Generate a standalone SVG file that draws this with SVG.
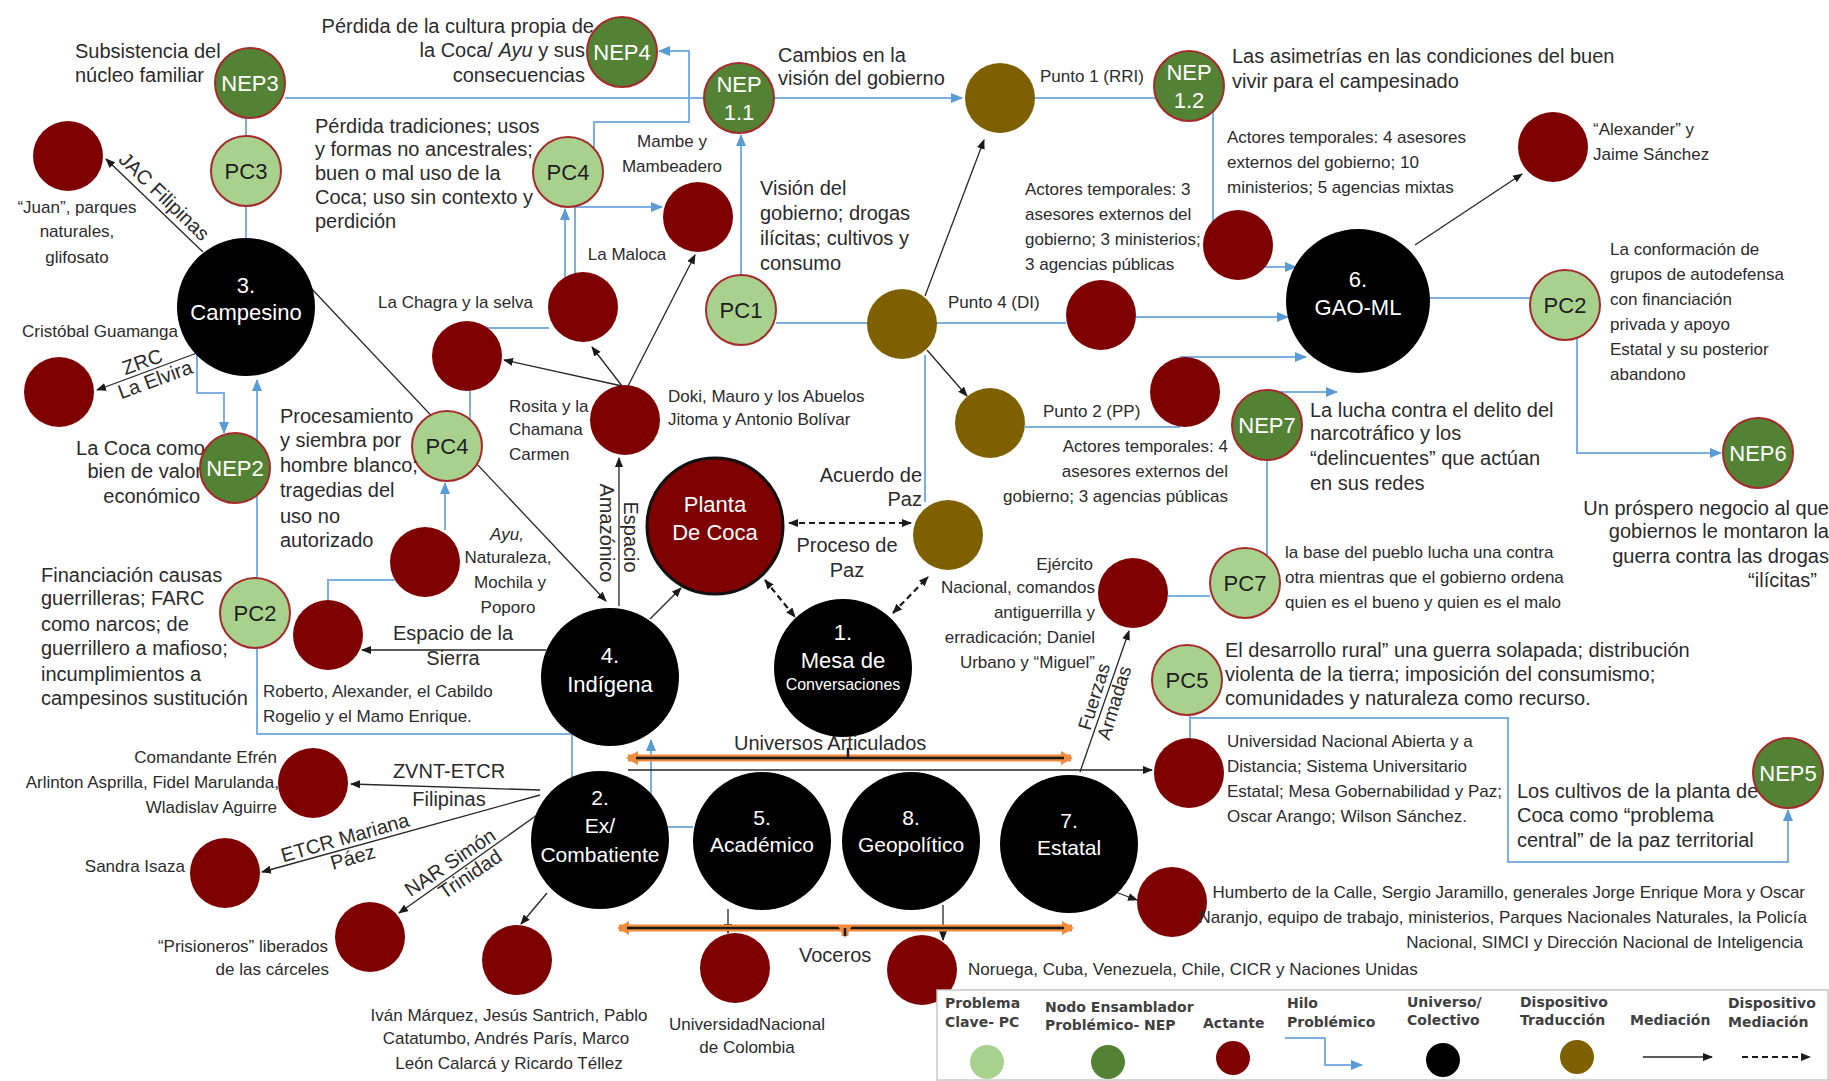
<svg xmlns="http://www.w3.org/2000/svg" width="1829" height="1081" viewBox="0 0 1829 1081">
<defs>
<style>
.t{font-family:"Liberation Sans",Arial,sans-serif;font-size:20px;fill:#2b2b2b}
.n{font-family:"Liberation Sans Narrow","Arial Narrow","Liberation Sans",sans-serif;font-size:17px;fill:#2b2b2b}
.w{font-family:"Liberation Sans",Arial,sans-serif;font-size:22px;fill:#fff;text-anchor:middle}
.k{font-family:"Liberation Sans",Arial,sans-serif;font-size:22px;fill:#1e1e1e;text-anchor:middle}
.m{text-anchor:middle}
.e{text-anchor:end}
.i{font-style:italic}
.pc{fill:#a9d18e;stroke:#a52a2a;stroke-width:2}
.nep{fill:#548235;stroke:#a52a2a;stroke-width:2}
.act{fill:#7f0000}
.dev{fill:#7f6000}
.uni{fill:#000}
.blue{fill:none;stroke:#7db0e2;stroke-width:2}
.blk{fill:none;stroke:#262626;stroke-width:1.3}
.dash{fill:none;stroke:#1a1a1a;stroke-width:2.2;stroke-dasharray:6 4}
.or{fill:none;stroke:#f08a3c;stroke-width:7}
.orc{fill:none;stroke:#1a1a1a;stroke-width:2.5}
.lg{font-family:"DejaVu Sans",Verdana,sans-serif;font-weight:bold;font-size:14px;fill:#404040}
</style>
<marker id="ab" viewBox="0 0 10 8" refX="9" refY="4" markerWidth="10" markerHeight="8" markerUnits="userSpaceOnUse" orient="auto-start-reverse"><path d="M0,0L10,4L0,8z" fill="#1a1a1a"/></marker>
<marker id="abl" viewBox="0 0 12 10" refX="11" refY="5" markerWidth="12" markerHeight="10" markerUnits="userSpaceOnUse" orient="auto"><path d="M0,0L12,5L0,10z" fill="#5b9bd5"/></marker>
<marker id="ao" viewBox="0 0 12 14" refX="10" refY="7" markerWidth="12" markerHeight="14" markerUnits="userSpaceOnUse" orient="auto-start-reverse"><path d="M0,0L12,7L0,14z" fill="#f08a3c"/></marker>
</defs>
<rect width="1829" height="1081" fill="#fff"/>

<!-- connectors -->
<g id="connectors">
  <!-- problem threads -->
  <path class="blue" d="M285,98H962" marker-end="url(#abl)"/>
  <path class="blue" d="M1035,98H1160"/>
  <path class="blue" d="M246,118V136M246,206V240"/>
  <path class="blue" d="M197,354V393H224V433" marker-end="url(#abl)"/>
  <path class="blue" d="M572,777V734H257V380" marker-end="url(#abl)"/>
  <path class="blue" d="M693,827H651V740" marker-end="url(#abl)"/>
  <path class="blue" d="M395,580H328V600"/>
  <path class="blue" d="M445,530V483" marker-end="url(#abl)"/>
  <path class="blue" d="M470,420V328H549"/>
  <path class="blue" d="M565,277V209" marker-end="url(#abl)"/>
  <path class="blue" d="M575,276V207H662" marker-end="url(#abl)"/>
  <path class="blue" d="M594,149V122H689V51H659" marker-end="url(#abl)"/>
  <path class="blue" d="M741,275V135" marker-end="url(#abl)"/>
  <path class="blue" d="M776,323H1066"/>
  <path class="blue" d="M1136,317H1288" marker-end="url(#abl)"/>
  <path class="blue" d="M1213,111V222"/>
  <path class="blue" d="M1265,267H1296" marker-end="url(#abl)"/>
  <path class="blue" d="M925,355V502"/>
  <path class="blue" d="M1180,357H1306" marker-end="url(#abl)"/>
  <path class="blue" d="M1025,427H1180"/>
  <path class="blue" d="M1277,392H1337" marker-end="url(#abl)"/>
  <path class="blue" d="M1267,556V460"/>
  <path class="blue" d="M1168,596H1210"/>
  <path class="blue" d="M1190,715V738"/>
  <path class="blue" d="M1190,718H1508V862H1788V810" marker-end="url(#abl)"/>
  <path class="blue" d="M1420,298H1530"/>
  <path class="blue" d="M1577,338V453H1721" marker-end="url(#abl)"/>
  <!-- mediations -->
  <path class="blk" d="M203,252L106,159" marker-end="url(#ab)"/>
  <path class="blk" d="M197,353L97,390" marker-end="url(#ab)"/>
  <path class="blk" d="M310,287L606,601" marker-end="url(#ab)"/>
  <path class="blk" d="M619,606V458" marker-end="url(#ab)"/>
  <path class="blk" d="M622,386L504,360" marker-end="url(#ab)"/>
  <path class="blk" d="M622,386L592,347" marker-end="url(#ab)"/>
  <path class="blk" d="M628,386L695,255" marker-end="url(#ab)"/>
  <path class="blk" d="M650,619L681,588" marker-end="url(#ab)"/>
  <path class="blk" d="M546,650H362" marker-end="url(#ab)"/>
  <path class="blk" d="M925,296L984,140" marker-end="url(#ab)"/>
  <path class="blk" d="M927,350L967,396" marker-end="url(#ab)"/>
  <path class="blk" d="M1415,245L1522,174" marker-end="url(#ab)"/>
  <path class="blk" d="M540,790L351,784" marker-end="url(#ab)"/>
  <path class="blk" d="M540,795L262,872" marker-end="url(#ab)"/>
  <path class="blk" d="M537,815L399,913" marker-end="url(#ab)"/>
  <path class="blk" d="M547,893L521,924" marker-end="url(#ab)"/>
  <path class="blk" d="M728,909V933" marker-end="url(#ab)"/>
  <path class="blk" d="M943,905V940" marker-end="url(#ab)"/>
  <path class="blk" d="M1118,893L1137,900" marker-end="url(#ab)"/>
  <path class="blk" d="M1080,772L1129,631" marker-end="url(#ab)"/>
  <path class="blk" d="M628,770H1152" marker-end="url(#ab)"/>
  <!-- mediation devices -->
  <path class="dash" d="M789,523H911" marker-start="url(#ab)" marker-end="url(#ab)"/>
  <path class="dash" d="M765,580L795,617" marker-start="url(#ab)" marker-end="url(#ab)"/>
  <path class="dash" d="M893,613L928,577" marker-start="url(#ab)" marker-end="url(#ab)"/>
  <!-- articulated universes / spokespersons -->
  <path class="or" d="M628,758H1071" marker-start="url(#ao)" marker-end="url(#ao)"/>
  <path class="orc" d="M636,758H1064M848,758V748"/>
  <path class="or" d="M619,928H1072" marker-start="url(#ao)" marker-end="url(#ao)"/>
  <path class="orc" d="M627,928H1064"/>
  <path class="or" d="M845,928V936" stroke-width="4" marker-end="url(#ao)"/>
  <path class="orc" d="M845,928V936"/>
</g>

<!-- universes / collectives -->
<g id="campesino"><circle class="uni" cx="246" cy="307" r="69"/><text class="w" x="246" y="293">3.</text><text class="w" x="246" y="320">Campesino</text></g>
<g id="indigena"><circle class="uni" cx="610" cy="677" r="69"/><text class="w" x="610" y="663">4.</text><text class="w" x="610" y="692">Indígena</text></g>
<g id="mesa"><circle class="uni" cx="843" cy="668" r="69"/><text class="w" x="843" y="640">1.</text><text class="w" x="843" y="668">Mesa de</text><text class="w" x="843" y="690" style="font-size:16px">Conversaciones</text></g>
<g id="excombatiente"><circle class="uni" cx="600" cy="840" r="69"/><text class="w" x="600" y="805" style="font-size:21px">2.</text><text class="w" x="600" y="833" style="font-size:21px">Ex/</text><text class="w" x="600" y="862" style="font-size:21px">Combatiente</text></g>
<g id="academico"><circle class="uni" cx="762" cy="841" r="69"/><text class="w" x="762" y="825" style="font-size:21px">5.</text><text class="w" x="762" y="852" style="font-size:21px">Académico</text></g>
<g id="geopolitico"><circle class="uni" cx="911" cy="841" r="69"/><text class="w" x="911" y="825" style="font-size:21px">8.</text><text class="w" x="911" y="852" style="font-size:21px">Geopolítico</text></g>
<g id="estatal"><circle class="uni" cx="1069" cy="844" r="69"/><text class="w" x="1069" y="828" style="font-size:21px">7.</text><text class="w" x="1069" y="855" style="font-size:21px">Estatal</text></g>
<g id="gaoml"><circle class="uni" cx="1358" cy="301" r="72"/><text class="w" x="1358" y="287">6.</text><text class="w" x="1358" y="315">GAO-ML</text></g>

<!-- coca plant -->
<g id="planta"><circle cx="715" cy="526" r="68" fill="#7f0000" stroke="#111" stroke-width="3"/><text class="w" x="715" y="512">Planta</text><text class="w" x="715" y="540">De Coca</text></g>

<!-- translation devices -->
<g id="punto1"><circle class="dev" cx="1000" cy="98" r="35"/><text class="n" x="1040" y="82">Punto 1 (RRI)</text></g>
<g id="punto4"><circle class="dev" cx="902" cy="324" r="35"/><text class="n" x="948" y="308">Punto 4 (DI)</text></g>
<g id="punto2"><circle class="dev" cx="990" cy="423" r="35"/><text class="n" x="1043" y="417">Punto 2 (PP)</text></g>
<g id="acuerdo"><circle class="dev" cx="948" cy="535" r="35"/>
  <text class="t e" x="922" y="482">Acuerdo de</text><text class="t e" x="922" y="506">Paz</text>
  <text class="t m" x="847" y="552">Proceso de</text><text class="t m" x="847" y="577">Paz</text></g>

<!-- key problems -->
<g id="pc3"><circle class="pc" cx="246" cy="171" r="35"/><text class="k" x="246" y="179">PC3</text>
  <text class="t" x="315" y="133">Pérdida tradiciones; usos</text><text class="t" x="315" y="156">y formas no ancestrales;</text><text class="t" x="315" y="180">buen o mal uso de la</text><text class="t" x="315" y="204">Coca; uso sin contexto y</text><text class="t" x="315" y="228">perdición</text></g>
<g id="pc4-upper"><circle class="pc" cx="568" cy="172" r="35"/><text class="k" x="568" y="180">PC4</text></g>
<g id="pc1"><circle class="pc" cx="741" cy="310" r="35"/><text class="k" x="741" y="318">PC1</text>
  <text class="t" x="760" y="195">Visión del</text><text class="t" x="760" y="220">gobierno; drogas</text><text class="t" x="760" y="245">ilícitas; cultivos y</text><text class="t" x="760" y="270">consumo</text></g>
<g id="pc4-lower"><circle class="pc" cx="447" cy="446" r="35"/><text class="k" x="447" y="454">PC4</text>
  <text class="t" x="280" y="423">Procesamiento</text><text class="t" x="280" y="447">y siembra por</text><text class="t" x="280" y="472">hombre blanco;</text><text class="t" x="280" y="497">tragedias del</text><text class="t" x="280" y="523">uso no</text><text class="t" x="280" y="547">autorizado</text></g>
<g id="pc2-left"><circle class="pc" cx="255" cy="613" r="35"/><text class="k" x="255" y="621">PC2</text>
  <text class="t" x="41" y="582">Financiación causas</text><text class="t" x="41" y="605">guerrilleras; FARC</text><text class="t" x="41" y="631">como narcos; de</text><text class="t" x="41" y="655">guerrillero a mafioso;</text><text class="t" x="41" y="681">incumplimientos a</text><text class="t" x="41" y="705">campesinos sustitución</text></g>
<g id="pc2-right"><circle class="pc" cx="1565" cy="305" r="35"/><text class="k" x="1565" y="313">PC2</text>
  <text class="n" x="1610" y="255">La conformación de</text><text class="n" x="1610" y="280">grupos de autodefensa</text><text class="n" x="1610" y="305">con financiación</text><text class="n" x="1610" y="330">privada y apoyo</text><text class="n" x="1610" y="355">Estatal y su posterior</text><text class="n" x="1610" y="380">abandono</text></g>
<g id="pc7"><circle class="pc" cx="1245" cy="583" r="35"/><text class="k" x="1245" y="591">PC7</text>
  <text class="n" x="1285" y="558">la base del pueblo lucha una contra</text><text class="n" x="1285" y="583">otra mientras que el gobierno ordena</text><text class="n" x="1285" y="608">quien es el bueno y quien es el malo</text></g>
<g id="pc5"><circle class="pc" cx="1187" cy="680" r="35"/><text class="k" x="1187" y="688">PC5</text>
  <text class="t" x="1225" y="657">El desarrollo rural” una guerra solapada; distribución</text><text class="t" x="1225" y="681">violenta de la tierra; imposición del consumismo;</text><text class="t" x="1225" y="705">comunidades y naturaleza como recurso.</text></g>

<!-- problem assembler nodes -->
<g id="nep3"><circle class="nep" cx="250" cy="83" r="35"/><text class="w" x="250" y="91">NEP3</text>
  <text class="t" x="75" y="58">Subsistencia del</text><text class="t" x="75" y="82">núcleo familiar</text></g>
<g id="nep4"><text class="t e" x="594" y="33">Pérdida de la cultura propia de</text><text class="t e" x="585" y="57">la Coca/ <tspan class="i">Ayu</tspan> y sus</text><text class="t e" x="585" y="82">consecuencias</text>
  <circle class="nep" cx="622" cy="52" r="35"/><text class="w" x="622" y="60">NEP4</text></g>
<g id="nep11"><circle class="nep" cx="739" cy="98" r="35"/><text class="w" x="739" y="92">NEP</text><text class="w" x="739" y="120">1.1</text>
  <text class="t" x="778" y="62">Cambios en la</text><text class="t" x="778" y="85">visión del gobierno</text></g>
<g id="nep12"><circle class="nep" cx="1189" cy="86" r="35"/><text class="w" x="1189" y="80">NEP</text><text class="w" x="1189" y="108">1.2</text>
  <text class="t" x="1232" y="63">Las asimetrías en las condiciones del buen</text><text class="t" x="1232" y="88">vivir para el campesinado</text></g>
<g id="nep2"><text class="t e" x="205" y="455">La Coca como</text><text class="t e" x="202" y="478">bien de valor</text><text class="t e" x="200" y="503">económico</text>
  <circle class="nep" cx="235" cy="468" r="35"/><text class="w" x="235" y="476">NEP2</text></g>
<g id="nep7"><circle class="nep" cx="1267" cy="425" r="35"/><text class="w" x="1267" y="433">NEP7</text>
  <text class="t" x="1310" y="417">La lucha contra el delito del</text><text class="t" x="1310" y="440">narcotráfico y los</text><text class="t" x="1310" y="465">“delincuentes” que actúan</text><text class="t" x="1310" y="490">en sus redes</text></g>
<g id="nep6"><circle class="nep" cx="1758" cy="453" r="35"/><text class="w" x="1758" y="461">NEP6</text>
  <text class="t e" x="1829" y="515">Un próspero negocio al que</text><text class="t e" x="1829" y="538">gobiernos le montaron la</text><text class="t e" x="1829" y="563">guerra contra las drogas</text><text class="t e" x="1817" y="587">“ilícitas”</text></g>
<g id="nep5"><text class="t" x="1517" y="798">Los cultivos de la planta de</text><text class="t" x="1517" y="822">Coca como “problema</text><text class="t" x="1517" y="847">central” de la paz territorial</text>
  <circle class="nep" cx="1788" cy="773" r="35"/><text class="w" x="1788" y="781">NEP5</text></g>

<!-- actants -->
<g id="juan"><circle class="act" cx="68" cy="156" r="35"/><text class="n m" x="77" y="213">“Juan”, parques</text><text class="n m" x="77" y="237">naturales,</text><text class="n m" x="77" y="263">glifosato</text>
  <text class="t m" transform="translate(156,205) rotate(44)" y="-5">JAC Filipinas</text></g>
<g id="guamanga"><circle class="act" cx="59" cy="392" r="35"/><text class="n" x="22" y="337">Cristóbal Guamanga</text>
  <g transform="translate(146,372) rotate(-20)"><text class="t m" y="-4">ZRC</text><text class="t m" x="6" y="17">La Elvira</text></g></g>
<g id="chagra"><circle class="act" cx="467" cy="356" r="35"/><text class="n" x="378" y="308">La Chagra y la selva</text></g>
<g id="maloca"><circle class="act" cx="583" cy="307" r="35"/><text class="n m" x="627" y="260">La Maloca</text></g>
<g id="mambe"><circle class="act" cx="698" cy="217" r="35"/><text class="n m" x="672" y="147">Mambe y</text><text class="n m" x="672" y="172">Mambeadero</text></g>
<g id="doki"><circle class="act" cx="625" cy="420" r="35"/>
  <text class="n" x="509" y="412">Rosita y la</text><text class="n" x="509" y="435">Chamana</text><text class="n" x="509" y="460">Carmen</text>
  <text class="n" x="668" y="402">Doki, Mauro y los Abuelos</text><text class="n" x="668" y="425">Jitoma y Antonio Bolívar</text>
  <text class="t m" transform="translate(624,537) rotate(90)">Espacio</text><text class="t m" transform="translate(600,533) rotate(90)">Amazónico</text></g>
<g id="ayu"><circle class="act" cx="425" cy="562" r="35"/><text class="n m i" x="507" y="540">Ayu,</text><text class="n m" x="508" y="563">Naturaleza,</text><text class="n m" x="510" y="588">Mochila y</text><text class="n m" x="508" y="613">Poporo</text></g>
<g id="roberto"><circle class="act" cx="328" cy="635" r="35"/>
  <text class="t m" x="453" y="640">Espacio de la</text><text class="t m" x="453" y="665">Sierra</text>
  <text class="n" x="263" y="697">Roberto, Alexander, el Cabildo</text><text class="n" x="263" y="722">Rogelio y el Mamo Enrique.</text></g>
<g id="actores-di"><circle class="act" cx="1101" cy="315" r="35"/>
  <text class="n" x="1025" y="195">Actores temporales: 3</text><text class="n" x="1025" y="220">asesores externos del</text><text class="n" x="1025" y="245">gobierno; 3 ministerios;</text><text class="n" x="1025" y="270">3 agencias públicas</text></g>
<g id="actores-rri"><circle class="act" cx="1238" cy="245" r="35"/>
  <text class="n" x="1227" y="143">Actores temporales: 4 asesores</text><text class="n" x="1227" y="168">externos del gobierno; 10</text><text class="n" x="1227" y="193">ministerios; 5 agencias mixtas</text></g>
<g id="alexander"><circle class="act" cx="1553" cy="147" r="35"/><text class="n" x="1593" y="135">“Alexander” y</text><text class="n" x="1593" y="160">Jaime Sánchez</text></g>
<g id="actores-pp"><circle class="act" cx="1185" cy="392" r="35"/>
  <text class="n e" x="1228" y="452">Actores temporales: 4</text><text class="n e" x="1228" y="477">asesores externos del</text><text class="n e" x="1228" y="502">gobierno; 3 agencias públicas</text></g>
<g id="ejercito"><circle class="act" cx="1133" cy="593" r="35"/>
  <text class="n e" x="1093" y="570">Ejército</text><text class="n e" x="1095" y="593">Nacional, comandos</text><text class="n e" x="1095" y="618">antiguerrilla y</text><text class="n e" x="1095" y="643">erradicación; Daniel</text><text class="n e" x="1095" y="668">Urbano y “Miguel”</text>
  <g transform="translate(1105,700) rotate(-73)"><text class="t m" y="-5" style="font-size:19px">Fuerzas</text><text class="t m" y="16" style="font-size:19px">Armadas</text></g></g>
<g id="universidad"><circle class="act" cx="1189" cy="773" r="35"/>
  <text class="n" x="1227" y="747">Universidad Nacional Abierta y a</text><text class="n" x="1227" y="772">Distancia; Sistema Universitario</text><text class="n" x="1227" y="797">Estatal; Mesa Gobernabilidad y Paz;</text><text class="n" x="1227" y="822">Oscar Arango; Wilson Sánchez.</text></g>
<g id="humberto"><circle class="act" cx="1172" cy="902" r="35"/>
  <text class="n e" x="1805" y="898">Humberto de la Calle, Sergio Jaramillo, generales Jorge Enrique Mora y Oscar</text><text class="n e" x="1807" y="923">Naranjo, equipo de trabajo, ministerios, Parques Nacionales Naturales, la Policía</text><text class="n e" x="1803" y="948">Nacional, SIMCI y Dirección Nacional de Inteligencia</text></g>
<g id="noruega"><circle class="act" cx="922" cy="970" r="35"/><text class="n" x="968" y="975">Noruega, Cuba, Venezuela, Chile, CICR y Naciones Unidas</text></g>
<g id="unal"><circle class="act" cx="735" cy="968" r="35"/><text class="n m" x="747" y="1030">UniversidadNacional</text><text class="n m" x="747" y="1053">de Colombia</text></g>
<g id="ivan"><circle class="act" cx="517" cy="960" r="35"/><text class="n m" x="509" y="1021">Iván Márquez, Jesús Santrich, Pablo</text><text class="n m" x="506" y="1044">Catatumbo, Andrés París, Marco</text><text class="n m" x="509" y="1069">León Calarcá y Ricardo Téllez</text></g>
<g id="prisioneros"><circle class="act" cx="370" cy="937" r="35"/><text class="n e" x="328" y="952">“Prisioneros” liberados</text><text class="n e" x="329" y="975">de las cárceles</text>
  <g transform="translate(461,868) rotate(-34)"><text class="t m" x="-6" y="-4">NAR Simón</text><text class="t m" x="4" y="17">Trinidad</text></g></g>
<g id="sandra"><circle class="act" cx="225" cy="873" r="35"/><text class="n e" x="185" y="872">Sandra Isaza</text>
  <g transform="translate(348,848) rotate(-16)"><text class="t m" y="-4">ETCR Mariana</text><text class="t m" x="2" y="17">Páez</text></g></g>
<g id="efren"><circle class="act" cx="313" cy="783" r="35"/>
  <text class="n e" x="277" y="763">Comandante Efrén</text><text class="n e" x="279" y="788">Arlinton Asprilla, Fidel Marulanda,</text><text class="n e" x="277" y="813">Wladislav Aguirre</text>
  <text class="t m" x="449" y="778">ZVNT-ETCR</text><text class="t m" x="449" y="806">Filipinas</text></g>

<!-- connector captions -->
<g id="captions"><text class="t" x="734" y="750">Universos Articulados</text><text class="t" x="799" y="962">Voceros</text></g>

<!-- legend -->
<g id="legend">
  <rect x="937" y="990" width="891" height="90" fill="#fff" stroke="#c8c8c8" stroke-width="1.5"/>
  <text class="lg" x="945" y="1008">Problema</text><text class="lg" x="945" y="1027">Clave- PC</text>
  <circle cx="987" cy="1062" r="17" fill="#a9d18e"/>
  <text class="lg" x="1045" y="1012">Nodo Ensamblador</text><text class="lg" x="1045" y="1030">Problémico- NEP</text>
  <circle cx="1108" cy="1062" r="17" fill="#548235"/>
  <text class="lg" x="1203" y="1028">Actante</text>
  <circle cx="1233" cy="1058" r="17" fill="#7f0000"/>
  <text class="lg" x="1287" y="1008">Hilo</text><text class="lg" x="1287" y="1027">Problémico</text>
  <path class="blue" d="M1285,1038H1325V1065H1362" marker-end="url(#abl)"/>
  <text class="lg" x="1407" y="1007">Universo/</text><text class="lg" x="1407" y="1025">Colectivo</text>
  <circle cx="1443" cy="1060" r="17" fill="#000"/>
  <text class="lg" x="1520" y="1007">Dispositivo</text><text class="lg" x="1520" y="1025">Traducción</text>
  <circle cx="1577" cy="1057" r="17" fill="#7f6000"/>
  <text class="lg" x="1630" y="1025">Mediación</text>
  <path class="blk" d="M1643,1057H1712" stroke-width="2" marker-end="url(#ab)"/>
  <text class="lg" x="1728" y="1008">Dispositivo</text><text class="lg" x="1728" y="1027">Mediación</text>
  <path class="dash" d="M1742,1057H1810" stroke-dasharray="5 3" marker-end="url(#ab)"/>
</g>
</svg>
